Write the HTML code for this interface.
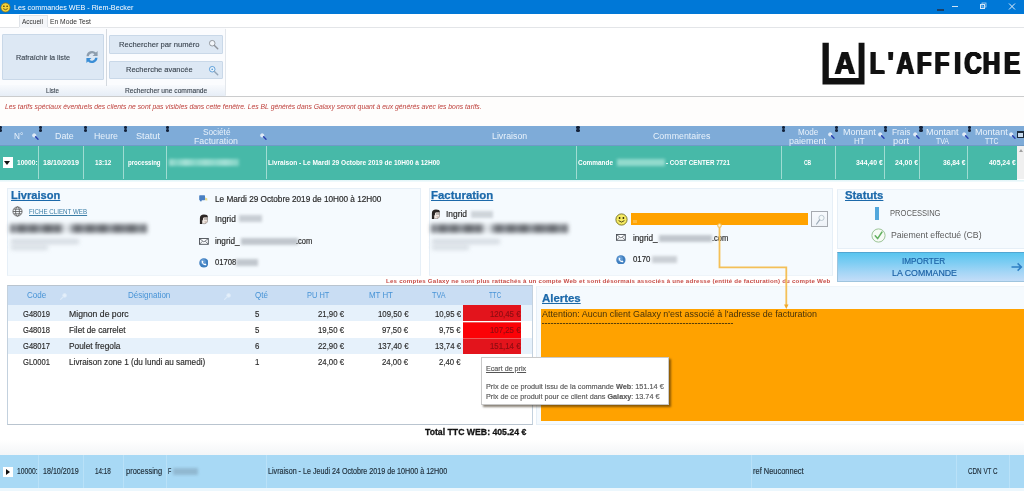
<!DOCTYPE html>
<html lang="fr">
<head>
<meta charset="utf-8">
<title>Les commandes WEB - Riem-Becker</title>
<style>
html,body{margin:0;padding:0;}
body{width:1024px;height:491px;position:relative;overflow:hidden;background:#fff;font-family:"Liberation Sans","DejaVu Sans",sans-serif;color:#222;}
.a{position:absolute;white-space:nowrap;line-height:1;}
.t{position:absolute;white-space:nowrap;line-height:1;transform-origin:0 50%;margin-top:.6px;}
.c{text-align:center;}
.r{text-align:right;}
.blur{filter:blur(1.6px);}
/* title bar */
#titlebar{left:0;top:0;width:1024px;height:14px;background:#0078d7;}
/* ribbon */
.rbtn{position:absolute;background:#dde8f4;border:1px solid #c9d8e8;box-sizing:border-box;border-radius:1px;}
.rtxt{color:#3a444f;font-size:8.5px;-webkit-text-stroke:.12px currentColor;}
/* grid header */
#ghead{left:0;top:126.2px;width:1024px;height:19.8px;background:#7eabd8;}
.gh{color:#e9f2fb;font-size:9px;line-height:8.5px;text-align:center;}
#grow{left:0;top:146px;width:1017px;height:33.6px;background:#47b9a8;}
.gsep{position:absolute;top:146px;width:1px;height:33px;background:#9fdcd2;}
.gv{color:#fff;font-weight:bold;font-size:7.5px;}
/* panels */
.panel{position:absolute;background:#f5fafe;border:1px solid #e6eff7;box-sizing:border-box;}
.h{color:#1c69aa;-webkit-text-stroke:.25px currentColor;font-weight:bold;font-size:13px;text-decoration:underline;text-decoration-thickness:1px;}
.d{font-size:8.5px;color:#2a2a2a;-webkit-text-stroke:.18px currentColor;}
/* product table */
.ph{color:#4793d6;font-size:8.5px;}
.pc{font-size:8.5px;color:#2b2b2b;-webkit-text-stroke:.15px currentColor;}
.brow{font-size:8px;color:#1d2b36;-webkit-text-stroke:.15px currentColor;}
.bsep{position:absolute;top:455px;width:1px;height:33px;background:#b9e1f8;}
</style>
</head>
<body>

<!-- ===== Title bar ===== -->
<div class="a" id="titlebar"></div>
<svg class="a" style="left:0;top:2px" width="11" height="11" viewBox="0 0 11 11"><circle cx="5.5" cy="5.5" r="4.6" fill="#f3d23a" stroke="#8a6d12" stroke-width=".7"/><circle cx="3.9" cy="4.3" r=".8" fill="#3a2c05"/><circle cx="7.1" cy="4.3" r=".8" fill="#3a2c05"/><path d="M3.2 6.6 Q5.5 8.8 7.8 6.6" fill="none" stroke="#3a2c05" stroke-width=".7"/></svg>
<div class="t" style="left:14px;top:3.20px;font-size:7.6px;color:#fff;transform:scaleX(0.9486);">Les commandes WEB - Riem-Becker</div>
<!-- window controls -->
<svg class="a" style="left:930px;top:0" width="94" height="14" viewBox="0 0 94 14">
<rect x="7" y="9" width="7" height="2" fill="#1b3f66"/>
<rect x="22" y="6" width="6" height="1" fill="#cfe4f7"/>
<rect x="50.5" y="4.5" width="4" height="4" fill="none" stroke="#d8e9f8" stroke-width="1"/>
<rect x="52" y="3" width="4" height="4" fill="none" stroke="#b5d5f1" stroke-width=".8"/>
<path d="M79 3.5 L85 9.5 M85 3.5 L79 9.5" stroke="#e3effa" stroke-width="1"/>
</svg>

<!-- ===== Tabs ===== -->
<div class="a" style="left:19px;top:15px;width:29px;height:13px;background:#f4f6f9;border:1px solid #dfe3e8;border-bottom:none;box-sizing:border-box;"></div>
<div class="t" style="left:22.3px;top:17.25px;font-size:7.5px;color:#333;transform:scaleX(0.8682);">Accueil</div>
<div class="t" style="left:50.3px;top:17.25px;font-size:7.5px;color:#333;transform:scaleX(0.8965);">En Mode Test</div>
<div class="a" style="left:0;top:27px;width:1024px;height:1px;background:#e3e5e8;"></div>
<div class="a" style="left:19px;top:27px;width:29px;height:1px;background:#f4f6f9;"></div>

<!-- ===== Ribbon ===== -->
<div class="a" style="left:0;top:28px;width:226px;height:68px;background:#fbfcfe;"></div>
<div class="a" style="left:0;top:85px;width:226px;height:11.4px;background:linear-gradient(#f8fafd,#e6edf6);"></div>
<div class="a" style="left:106px;top:29px;width:1px;height:57px;background:#d4d9df;"></div>
<div class="a" style="left:225px;top:29px;width:1px;height:66px;background:#e3e7ec;"></div>
<div class="rbtn" style="left:2px;top:34px;width:102px;height:46px;"></div>
<div class="t rtxt" style="left:16.4px;top:53.30px;font-size:7.9px;transform:scaleX(0.9189);">Rafraîchir la liste</div>
<svg class="a" style="left:84px;top:49px" width="16" height="16" viewBox="0 0 16 16"><path d="M2.5 7.2 A5.6 5.6 0 0 1 12 3.6 L13.6 2 V7 H8.6 L10.4 5.2 A3.4 3.4 0 0 0 4.8 7.2 Z" fill="#8e9eae"/><path d="M13.5 8.8 A5.6 5.6 0 0 1 4 12.4 L2.4 14 V9 H7.4 L5.6 10.8 A3.4 3.4 0 0 0 11.2 8.8 Z" fill="#3a8ed6"/></svg>
<div class="rbtn" style="left:109px;top:35.4px;width:114px;height:18.4px;"></div>
<div class="t rtxt" style="left:119px;top:40.25px;font-size:8.0px;transform:scaleX(0.9540);">Rechercher par numéro</div>
<svg class="a" style="left:208px;top:39.4px" width="11" height="11" viewBox="0 0 13 13"><circle cx="5" cy="5" r="3.3" fill="#f2f6fa" stroke="#8f949b" stroke-width="1.1"/><path d="M7.6 7.6 L11.5 11.5" stroke="#8f949b" stroke-width="1.7" stroke-linecap="round"/></svg>
<div class="rbtn" style="left:109px;top:61px;width:114px;height:18px;"></div>
<div class="t rtxt" style="left:126px;top:65.25px;font-size:8.0px;transform:scaleX(0.9360);">Recherche avancée</div>
<svg class="a" style="left:208px;top:64.6px" width="11" height="11" viewBox="0 0 13 13"><circle cx="5" cy="5" r="3.3" fill="#e8f2fb" stroke="#5a9dd8" stroke-width="1.1"/><circle cx="5" cy="5" r="1" fill="#5a9dd8"/><path d="M7.6 7.6 L11.5 11.5" stroke="#93a6b8" stroke-width="1.7" stroke-linecap="round"/></svg>
<div class="t rtxt" style="left:45.7px;top:86.40px;font-size:7.2px;transform:scaleX(0.8560);">Liste</div>
<div class="t rtxt" style="left:124.7px;top:86.40px;font-size:7.2px;transform:scaleX(0.9278);">Rechercher une commande</div>
<div class="a" style="left:0;top:96.2px;width:1024px;height:1.8px;background:#cbcccd;"></div>
<div class="a" style="left:0;top:97px;width:1024px;height:30px;background:#fefdfc;"></div>

<!-- ===== Logo ===== -->
<svg class="a" style="left:816px;top:36px" width="208" height="56" viewBox="0 0 208 56">
<defs><filter id="fat" x="-5%" y="-5%" width="110%" height="110%" color-interpolation-filters="sRGB"><feConvolveMatrix order="3 1" kernelMatrix="0.85 1 0.85" divisor="1" edgeMode="none" result="c"/><feFlood flood-color="#111"/><feComposite in2="c" operator="in"/></filter></defs>
<path d="M6.5 6.7 H12.8 V42.1 H42.6 V6.7 H48.5 V48.4 H6.5 Z" fill="#111"/>
<g transform="scale(0.89,1)" filter="url(#fat)" font-family="Liberation Sans, sans-serif" font-weight="bold" font-size="31.6" fill="#111">
<text x="21.0" y="38.3">A</text>
</g>
<g transform="scale(0.78,1)" filter="url(#fat)" font-family="Liberation Sans, sans-serif" font-weight="bold" font-size="31.2" fill="#111">
<text x="68.8 91.9 103.2 129.3 151.9 177.1 190.2 213.9 241.0" y="38.1">L'AFFICHE</text>
</g>
</svg>

<!-- red info line -->
<div class="t" style="left:4.7px;top:102.5px;font-size:7.5px;font-style:italic;color:#bd3d38;transform:scaleX(0.9068);">Les tarifs spéciaux éventuels des clients ne sont pas visibles dans cette fenêtre. Les BL générés dans Galaxy seront quant à eux générés avec les bons tarifs.</div>

<!-- ===== Grid header ===== -->
<div class="a" id="ghead"></div>
<div class="a" style="left:0;top:145px;width:1024px;height:1px;background:#6f9bc6;"></div>
<div class="t gh" style="left:13.6px;top:131.75px;font-size:8.50px;line-height:8.50px;transform:scaleX(0.9637);">N°</div>
<div class="t gh" style="left:54.6px;top:131.75px;font-size:8.50px;line-height:8.50px;transform:scaleX(1.0463);">Date</div>
<div class="t gh" style="left:94.4px;top:131.75px;font-size:8.50px;line-height:8.50px;transform:scaleX(1.0364);">Heure</div>
<div class="t gh" style="left:136.0px;top:131.75px;font-size:8.50px;line-height:8.50px;transform:scaleX(1.0802);">Statut</div>
<div class="t gh" style="left:202.5px;top:127.25px;font-size:8.50px;line-height:8.50px;transform:scaleX(0.9697);">Société</div>
<div class="t gh" style="left:194.0px;top:136.25px;font-size:8.50px;line-height:8.50px;transform:scaleX(1.0345);">Facturation</div>
<div class="t gh" style="left:491.7px;top:131.75px;font-size:8.50px;line-height:8.50px;transform:scaleX(1.0343);">Livraison</div>
<div class="t gh" style="left:653.4px;top:131.75px;font-size:8.50px;line-height:8.50px;transform:scaleX(1.0383);">Commentaires</div>
<div class="t gh" style="left:797.8px;top:127.25px;font-size:8.50px;line-height:8.50px;transform:scaleX(0.9499);">Mode</div>
<div class="t gh" style="left:789.2px;top:136.25px;font-size:8.50px;line-height:8.50px;transform:scaleX(1.0609);">paiement</div>
<div class="t gh" style="left:842.6px;top:127.25px;font-size:8.50px;line-height:8.50px;transform:scaleX(1.0645);">Montant</div>
<div class="t gh" style="left:854.0px;top:136.25px;font-size:8.50px;line-height:8.50px;transform:scaleX(0.9344);">HT</div>
<div class="t gh" style="left:891.6px;top:127.25px;font-size:8.50px;line-height:8.50px;transform:scaleX(0.9740);">Frais</div>
<div class="t gh" style="left:893.0px;top:136.25px;font-size:8.50px;line-height:8.50px;transform:scaleX(1.0917);">port</div>
<div class="t gh" style="left:926.4px;top:127.25px;font-size:8.50px;line-height:8.50px;transform:scaleX(1.0612);">Montant</div>
<div class="t gh" style="left:936.0px;top:136.25px;font-size:8.50px;line-height:8.50px;transform:scaleX(0.8173);">TVA</div>
<div class="t gh" style="left:975.3px;top:127.25px;font-size:8.50px;line-height:8.50px;transform:scaleX(1.0645);">Montant</div>
<div class="t gh" style="left:985.0px;top:136.25px;font-size:8.50px;line-height:8.50px;transform:scaleX(0.8106);">TTC</div>
<div class="a" style="left:-1px;top:126.1px;width:3.2px;height:2.7px;background:#14223a;border-radius:50%;"></div>
<div class="a" style="left:-1px;top:128.9px;width:3.2px;height:2.7px;background:#14223a;border-radius:50%;"></div>
<div class="a" style="left:38.7px;top:126.1px;width:3.2px;height:2.7px;background:#14223a;border-radius:50%;"></div>
<div class="a" style="left:38.7px;top:128.9px;width:3.2px;height:2.7px;background:#14223a;border-radius:50%;"></div>
<div class="a" style="left:83.9px;top:126.1px;width:3.2px;height:2.7px;background:#14223a;border-radius:50%;"></div>
<div class="a" style="left:83.9px;top:128.9px;width:3.2px;height:2.7px;background:#14223a;border-radius:50%;"></div>
<div class="a" style="left:123.8px;top:126.1px;width:3.2px;height:2.7px;background:#14223a;border-radius:50%;"></div>
<div class="a" style="left:123.8px;top:128.9px;width:3.2px;height:2.7px;background:#14223a;border-radius:50%;"></div>
<div class="a" style="left:166.2px;top:126.1px;width:3.2px;height:2.7px;background:#14223a;border-radius:50%;"></div>
<div class="a" style="left:166.2px;top:128.9px;width:3.2px;height:2.7px;background:#14223a;border-radius:50%;"></div>
<div class="a" style="left:576.4px;top:126.1px;width:3.2px;height:2.7px;background:#14223a;border-radius:50%;"></div>
<div class="a" style="left:576.4px;top:128.9px;width:3.2px;height:2.7px;background:#14223a;border-radius:50%;"></div>
<div class="a" style="left:781.6px;top:126.1px;width:3.2px;height:2.7px;background:#14223a;border-radius:50%;"></div>
<div class="a" style="left:781.6px;top:128.9px;width:3.2px;height:2.7px;background:#14223a;border-radius:50%;"></div>
<div class="a" style="left:835.1px;top:126.1px;width:3.2px;height:2.7px;background:#14223a;border-radius:50%;"></div>
<div class="a" style="left:835.1px;top:128.9px;width:3.2px;height:2.7px;background:#14223a;border-radius:50%;"></div>
<div class="a" style="left:884.1px;top:126.1px;width:3.2px;height:2.7px;background:#14223a;border-radius:50%;"></div>
<div class="a" style="left:884.1px;top:128.9px;width:3.2px;height:2.7px;background:#14223a;border-radius:50%;"></div>
<div class="a" style="left:919.4px;top:126.1px;width:3.2px;height:2.7px;background:#14223a;border-radius:50%;"></div>
<div class="a" style="left:919.4px;top:128.9px;width:3.2px;height:2.7px;background:#14223a;border-radius:50%;"></div>
<div class="a" style="left:967.8px;top:126.1px;width:3.2px;height:2.7px;background:#14223a;border-radius:50%;"></div>
<div class="a" style="left:967.8px;top:128.9px;width:3.2px;height:2.7px;background:#14223a;border-radius:50%;"></div>
<svg class="a" style="left:31.0px;top:131.8px" width="9" height="9" viewBox="0 0 9 9"><circle cx="3.2" cy="3.4" r="1.7" fill="#dfeaf6" stroke="#e9f1fa" stroke-width=".7"/><path d="M4.6 4.8 L7 7.2" stroke="#2a3fb0" stroke-width="1.4" stroke-linecap="round"/></svg>
<svg class="a" style="left:259.4px;top:131.8px" width="9" height="9" viewBox="0 0 9 9"><circle cx="3.2" cy="3.4" r="1.7" fill="#dfeaf6" stroke="#e9f1fa" stroke-width=".7"/><path d="M4.6 4.8 L7 7.2" stroke="#2a3fb0" stroke-width="1.4" stroke-linecap="round"/></svg>
<svg class="a" style="left:827.3px;top:131.2px" width="9" height="9" viewBox="0 0 9 9"><circle cx="3.2" cy="3.4" r="1.7" fill="#dfeaf6" stroke="#e9f1fa" stroke-width=".7"/><path d="M4.6 4.8 L7 7.2" stroke="#2a3fb0" stroke-width="1.4" stroke-linecap="round"/></svg>
<svg class="a" style="left:877.2px;top:131.2px" width="9" height="9" viewBox="0 0 9 9"><circle cx="3.2" cy="3.4" r="1.7" fill="#dfeaf6" stroke="#e9f1fa" stroke-width=".7"/><path d="M4.6 4.8 L7 7.2" stroke="#2a3fb0" stroke-width="1.4" stroke-linecap="round"/></svg>
<svg class="a" style="left:912.0px;top:131.2px" width="9" height="9" viewBox="0 0 9 9"><circle cx="3.2" cy="3.4" r="1.7" fill="#dfeaf6" stroke="#e9f1fa" stroke-width=".7"/><path d="M4.6 4.8 L7 7.2" stroke="#2a3fb0" stroke-width="1.4" stroke-linecap="round"/></svg>
<svg class="a" style="left:961.0px;top:131.2px" width="9" height="9" viewBox="0 0 9 9"><circle cx="3.2" cy="3.4" r="1.7" fill="#dfeaf6" stroke="#e9f1fa" stroke-width=".7"/><path d="M4.6 4.8 L7 7.2" stroke="#2a3fb0" stroke-width="1.4" stroke-linecap="round"/></svg>
<svg class="a" style="left:1008.0px;top:131.2px" width="9" height="9" viewBox="0 0 9 9"><circle cx="3.2" cy="3.4" r="1.7" fill="#dfeaf6" stroke="#e9f1fa" stroke-width=".7"/><path d="M4.6 4.8 L7 7.2" stroke="#2a3fb0" stroke-width="1.4" stroke-linecap="round"/></svg>
<div class="a" style="left:1017px;top:131px;width:7px;height:7px;border:1px solid #1c2a3a;border-top-width:2px;box-sizing:border-box;background:#c9dcef;"></div>

<!-- ===== Selected grid row ===== -->
<div class="a" id="grow"></div>
<div class="gsep" style="left:38px;"></div>
<div class="gsep" style="left:83px;"></div>
<div class="gsep" style="left:123px;"></div>
<div class="gsep" style="left:166px;"></div>
<div class="gsep" style="left:266px;"></div>
<div class="gsep" style="left:576px;"></div>
<div class="gsep" style="left:781px;"></div>
<div class="gsep" style="left:835px;"></div>
<div class="gsep" style="left:884px;"></div>
<div class="gsep" style="left:919px;"></div>
<div class="gsep" style="left:967px;"></div>
<div class="a" style="left:1017px;top:146px;width:7px;height:33px;background:#f0f0f0;"></div>
<div class="a" style="left:1018.5px;top:149px;width:0;height:0;border-left:2px solid transparent;border-right:2px solid transparent;border-bottom:3px solid #a0a0a0;"></div>
<div class="a" style="left:2.5px;top:157px;width:10.5px;height:10.5px;background:#fff;"></div>
<div class="a" style="left:4.1px;top:160.8px;width:0;height:0;border-left:3.6px solid transparent;border-right:3.6px solid transparent;border-top:4.2px solid #111;"></div>
<div class="t gv" style="left:16.9px;top:158.25px;font-size:7.20px;transform:scaleX(0.9200);">10000:</div>
<div class="t gv" style="left:42.9px;top:158.25px;font-size:7.20px;transform:scaleX(1.0032);">18/10/2019</div>
<div class="t gv" style="left:95.0px;top:158.25px;font-size:7.20px;transform:scaleX(0.8863);">13:12</div>
<div class="t gv" style="left:128.4px;top:158.25px;font-size:7.20px;transform:scaleX(0.8499);">processing</div>
<div class="a" style="left:169px;top:158.6px;width:70px;height:7.6px;filter:blur(1.8px);opacity:.8;background:linear-gradient(90deg,#b6e8de 0,#8fd9cc 12%,#bdebe2 24%,#93dbce 38%,#b4e7dd 52%,#9cdfd3 66%,#b9e9e0 80%,#8ed8cb 100%);"></div>
<div class="t gv" style="left:267.7px;top:158.25px;font-size:7.20px;transform:scaleX(0.9141);">Livraison - Le Mardi 29 Octobre 2019 de 10H00 à 12H00</div>
<div class="t gv" style="left:578.0px;top:158.25px;font-size:7.20px;transform:scaleX(0.8942);">Commande</div>
<div class="a blur" style="left:617px;top:159px;width:48px;height:7px;background:#9fe0d4;opacity:.85;"></div>
<div class="t gv" style="left:666.0px;top:158.25px;font-size:7.20px;transform:scaleX(0.8661);">- COST CENTER 7721</div>
<div class="t gv" style="left:804.4px;top:158.25px;font-size:7.20px;transform:scaleX(0.6929);">CB</div>
<div class="t gv" style="left:856.0px;top:158.25px;font-size:7.20px;transform:scaleX(0.9541);">344,40 €</div>
<div class="t gv" style="left:895.2px;top:158.25px;font-size:7.20px;transform:scaleX(0.9631);">24,00 €</div>
<div class="t gv" style="left:943.3px;top:158.25px;font-size:7.20px;transform:scaleX(0.9381);">36,84 €</div>
<div class="t gv" style="left:988.7px;top:158.25px;font-size:7.20px;transform:scaleX(0.9541);">405,24 €</div>

<!-- ===== Detail area ===== -->
<div class="a" style="left:0;top:179.6px;width:1024px;height:2.4px;background:linear-gradient(#dff4f7,#f4fbfd);"></div>
<div class="panel" style="left:7px;top:188px;width:414px;height:88px;border-bottom-color:#eef4f9;"></div>
<div class="panel" style="left:428.5px;top:188px;width:404.5px;height:88px;border-bottom-color:#eef4f9;"></div>
<div class="panel" style="left:837px;top:188.6px;width:190px;height:60.2px;border-top-color:#ecf3f9;"></div>
<div class="t h" style="left:10.5px;top:189.50px;font-size:11.00px;transform:scaleX(1.0081);">Livraison</div>
<div class="t h" style="left:431.2px;top:189.50px;font-size:11.00px;transform:scaleX(1.0383);">Facturation</div>
<div class="t h" style="left:845.3px;top:189.50px;font-size:11.00px;transform:scaleX(1.0300);">Statuts</div>
<svg class="a" style="left:11.5px;top:206.2px" width="11" height="11" viewBox="0 0 11 11"><g fill="none" stroke="#555" stroke-width=".8"><circle cx="5.5" cy="5.5" r="4.6"/><ellipse cx="5.5" cy="5.5" rx="2" ry="4.6"/><path d="M1 5.5H10M1.8 3.2H9.2M1.8 7.8H9.2"/></g></svg>
<div class="t d" style="left:28.6px;top:207.90px;font-size:7.5px;color:#3b7da6;text-decoration:underline;text-decoration-thickness:.7px;-webkit-text-stroke:0;transform:scaleX(0.8265);">FICHE CLIENT WEB</div>
<div class="a" style="left:9.5px;top:223.6px;width:137px;height:9.4px;filter:blur(2.1px);opacity:.8;background:linear-gradient(90deg,#4b4e55 0,#80858c 4%,#3f4248 8%,#6c7178 13%,#43464c 17%,#7d8289 22%,#3d4046 27%,#62666d 32%,#474a50 36%,#c9ced4 39%,#e6eaee 42%,#8b9097 45%,#3f4248 49%,#767b82 54%,#41444a 58%,#6a6e75 63%,#3d4046 68%,#7f848b 73%,#45484e 78%,#666a71 84%,#3f4248 89%,#74797f 94%,#4b4e55 100%);"></div>
<div class="a blur" style="left:11px;top:239px;width:68px;height:5px;filter:blur(2px);background:#c5ccd4;opacity:.7;"></div>
<div class="a blur" style="left:11px;top:245px;width:37px;height:5px;filter:blur(2px);background:#cbd2d9;opacity:.7;"></div>
<div class="a" style="left:430.5px;top:223.6px;width:137px;height:9.4px;filter:blur(2.1px);opacity:.8;background:linear-gradient(90deg,#4b4e55 0,#80858c 4%,#3f4248 8%,#6c7178 13%,#43464c 17%,#7d8289 22%,#3d4046 27%,#62666d 32%,#474a50 36%,#c9ced4 39%,#e6eaee 42%,#8b9097 45%,#3f4248 49%,#767b82 54%,#41444a 58%,#6a6e75 63%,#3d4046 68%,#7f848b 73%,#45484e 78%,#666a71 84%,#3f4248 89%,#74797f 94%,#4b4e55 100%);"></div>
<div class="a blur" style="left:432px;top:239px;width:68px;height:5px;filter:blur(2px);background:#c5ccd4;opacity:.7;"></div>
<div class="a blur" style="left:432px;top:245px;width:37px;height:5px;filter:blur(2px);background:#cbd2d9;opacity:.7;"></div>
<svg class="a" style="left:198.7px;top:195.2px" width="9" height="7" viewBox="0 0 9 7"><rect x=".2" y=".3" width="5.8" height="4.9" rx=".6" fill="#4a80c2"/><rect x=".9" y="5" width="1.8" height="1.3" fill="#4a80c2"/><path d="M6 2.4 L8.2 3.2 L8.4 5.6 L6 5.2 Z" fill="#e6d88c"/></svg>
<svg class="a" style="left:198.7px;top:214.2px" width="9.4" height="10.4" viewBox="0 0 9.4 10.4"><path d="M3.4 3 H8.5 V7.8 Q7.6 9.9 5 9.8 L3 9.2 Z" fill="#f1e9e3" stroke="#5d514b" stroke-width=".45"/><path d="M.9 9.9 L.9 4.2 Q.9 .5 5 .5 Q9.2 .5 8.8 3.3 L5.2 3.2 Q3.9 3.5 3.9 5 L3.9 6.2 L2.9 6.2 L3.1 9.9 Z" fill="#2b2624"/><path d="M5.4 5 H6.6 M7.3 5 H8.3" stroke="#2b2624" stroke-width=".8"/><path d="M5.6 7.8 Q6.6 8.3 7.6 7.8" stroke="#7a4f42" stroke-width=".5" fill="none"/></svg>
<svg class="a" style="left:198.8px;top:237.6px" width="10" height="7" viewBox="0 0 10 7"><rect x=".5" y=".5" width="8.8" height="5.8" fill="#fafcfe" stroke="#4a4f56" stroke-width=".9"/><path d="M.7 .8 L4.9 3.9 L9.1 .8 M.7 6.1 L3.5 3.2 M9.1 6.1 L6.3 3.2" fill="none" stroke="#4a4f56" stroke-width=".7"/></svg>
<svg class="a" style="left:198.7px;top:258.1px" width="9.8" height="9.8" viewBox="0 0 11 11"><circle cx="5.5" cy="5.5" r="5.2" fill="#3f7fc0"/><circle cx="4.6" cy="4.2" r="3" fill="#7fb0e2" opacity=".55"/><path d="M3 3.2 Q2.6 5.4 4.4 7 Q6.2 8.6 8 8 L8.2 6.8 L6.8 6.2 L6.2 6.8 Q5 6.4 4.4 5 L5 4.4 L4.4 3 Z" fill="#fff"/></svg>
<div class="t d" style="left:215.2px;top:195.00px;font-size:8.2px;transform:scaleX(1.0010);">Le Mardi 29 Octobre 2019 de 10H00 à 12H00</div>
<div class="t d" style="left:215.2px;top:215.10px;font-size:8.2px;transform:scaleX(1.0154);">Ingrid</div>
<div class="a blur" style="left:239px;top:215px;width:23px;height:7px;background:#b9bfc6;opacity:.75;"></div>
<div class="t d" style="left:215.2px;top:237.70px;font-size:8.2px;transform:scaleX(1.0003);">ingrid_</div>
<div class="a blur" style="left:241px;top:238px;width:57px;height:7px;background:#b4bac1;opacity:.8;"></div>
<div class="t d" style="left:296.0px;top:237.70px;font-size:8.2px;transform:scaleX(0.9183);">.com</div>
<div class="t d" style="left:215.2px;top:258.90px;font-size:8.2px;transform:scaleX(0.9350);">01708</div>
<div class="a blur" style="left:236px;top:259px;width:22px;height:7px;background:#b5bbc2;opacity:.8;"></div>
<svg class="a" style="left:430.8px;top:208.7px" width="9.4" height="10.4" viewBox="0 0 9.4 10.4"><path d="M3.4 3 H8.5 V7.8 Q7.6 9.9 5 9.8 L3 9.2 Z" fill="#f1e9e3" stroke="#5d514b" stroke-width=".45"/><path d="M.9 9.9 L.9 4.2 Q.9 .5 5 .5 Q9.2 .5 8.8 3.3 L5.2 3.2 Q3.9 3.5 3.9 5 L3.9 6.2 L2.9 6.2 L3.1 9.9 Z" fill="#2b2624"/><path d="M5.4 5 H6.6 M7.3 5 H8.3" stroke="#2b2624" stroke-width=".8"/><path d="M5.6 7.8 Q6.6 8.3 7.6 7.8" stroke="#7a4f42" stroke-width=".5" fill="none"/></svg>
<div class="t d" style="left:445.8px;top:210.40px;font-size:8.2px;transform:scaleX(1.0252);">Ingrid</div>
<div class="a blur" style="left:471px;top:210.5px;width:22px;height:7px;background:#c2c8ce;opacity:.75;"></div>
<svg class="a" style="left:614.8px;top:213.2px" width="13" height="13" viewBox="0 0 13 13"><circle cx="6.5" cy="6.5" r="5.6" fill="#f5ea62" stroke="#76701c" stroke-width=".9"/><circle cx="4.6" cy="5" r=".9" fill="#2a2205"/><circle cx="8.4" cy="5" r=".9" fill="#2a2205"/><path d="M3.6 7.6 Q6.5 10.6 9.4 7.6" fill="none" stroke="#2a2205" stroke-width=".8"/></svg>
<div class="a" style="left:631px;top:212.9px;width:177px;height:12.5px;background:#ffa200;"></div>
<div class="a" style="left:632.5px;top:219.5px;width:4px;height:3px;background:#ffb93a;"></div>
<div class="a" style="left:811px;top:211.3px;width:17px;height:15.4px;box-sizing:border-box;border:1px solid #a6aab0;background:linear-gradient(#f7fafd,#eef3f8);"></div>
<svg class="a" style="left:813px;top:213px" width="13" height="12" viewBox="0 0 13 12"><circle cx="8.5" cy="4.9" r="2.6" fill="#f4f9fb" stroke="#b5c3cc" stroke-width=".9"/><path d="M6.6 6.9 L3.6 11" stroke="#9aa9b6" stroke-width="1.2" stroke-linecap="round"/></svg>
<svg class="a" style="left:616px;top:234.2px" width="10" height="7" viewBox="0 0 10 7"><rect x=".5" y=".5" width="8.8" height="5.8" fill="#fafcfe" stroke="#4a4f56" stroke-width=".9"/><path d="M.7 .8 L4.9 3.9 L9.1 .8 M.7 6.1 L3.5 3.2 M9.1 6.1 L6.3 3.2" fill="none" stroke="#4a4f56" stroke-width=".7"/></svg>
<svg class="a" style="left:616.1px;top:254.7px" width="9.8" height="9.8" viewBox="0 0 11 11"><circle cx="5.5" cy="5.5" r="5.2" fill="#3f7fc0"/><circle cx="4.6" cy="4.2" r="3" fill="#7fb0e2" opacity=".55"/><path d="M3 3.2 Q2.6 5.4 4.4 7 Q6.2 8.6 8 8 L8.2 6.8 L6.8 6.2 L6.2 6.8 Q5 6.4 4.4 5 L5 4.4 L4.4 3 Z" fill="#fff"/></svg>
<div class="t d" style="left:632.6px;top:234.60px;font-size:8.2px;transform:scaleX(1.0003);">ingrid_</div>
<div class="a blur" style="left:659px;top:235px;width:53px;height:7px;background:#b4bac1;opacity:.8;"></div>
<div class="t d" style="left:711.5px;top:234.60px;font-size:8.2px;transform:scaleX(0.9183);">.com</div>
<div class="t d" style="left:632.6px;top:255.80px;font-size:8.2px;transform:scaleX(0.9551);">0170</div>
<div class="a blur" style="left:652px;top:256px;width:25px;height:7px;background:#c0c5cb;opacity:.8;"></div>
<svg class="a" style="left:712px;top:220px;z-index:5" width="84" height="92" viewBox="0 0 84 92"><path d="M7.5 7 V47.4 H74.3 V85" fill="none" stroke="#f4c058" stroke-width="1.8"/><circle cx="7.5" cy="5.6" r="1.8" fill="#fff3d6" stroke="#f4c058" stroke-width="1.1"/><path d="M72.1 84.6 L74.3 89 L76.5 84.6 Z" fill="#f0a82a"/></svg>
<div class="a" style="left:875px;top:207px;width:4px;height:13px;background:#52a7dc;"></div>
<div class="t d" style="left:889.5px;top:208.90px;font-size:8.5px;color:#5c5c5c;-webkit-text-stroke:0;transform:scaleX(0.8908);">PROCESSING</div>
<svg class="a" style="left:870.5px;top:227.5px" width="15" height="15" viewBox="0 0 15 15"><circle cx="7.5" cy="7.5" r="6.6" fill="#f7fbf6" stroke="#9cc497" stroke-width="1"/><path d="M4.2 7.8 L6.6 10.6 L11 4" fill="none" stroke="#62b060" stroke-width="1.5" stroke-linecap="round" stroke-linejoin="round"/></svg>
<div class="t d" style="left:891.4px;top:230.1px;font-size:8.5px;color:#5c5c5c;-webkit-text-stroke:0;transform:scaleX(1.0272);">Paiement effectué (CB)</div>
<div class="a" style="left:837px;top:252.3px;width:190px;height:29.6px;box-sizing:border-box;border:1px solid #9fc4de;border-top-color:#52a6d2;background:linear-gradient(#59c5ef 0%,#7ecdf3 35%,#a6d6f6 70%,#c3ddf8 100%);"></div>
<div class="t d" style="left:902.2px;top:256.70px;font-size:8.5px;color:#1c62a6;transform:scaleX(0.9638);">IMPORTER</div>
<div class="t d" style="left:892.0px;top:268.90px;font-size:8.5px;color:#1c62a6;transform:scaleX(1.0346);">LA COMMANDE</div>
<svg class="a" style="left:1011px;top:262px" width="13" height="10" viewBox="0 0 13 10"><path d="M.5 5 H10 M6.6 1.4 L10.4 5 L6.6 8.6" fill="none" stroke="#2e7fc4" stroke-width="1.5"/></svg>
<div class="t d" style="left:386.4px;top:277.5px;font-size:6px;letter-spacing:.2px;-webkit-text-stroke:0;color:#c74c46;font-weight:bold;transform:scaleX(1.0273);">Les comptes Galaxy ne sont plus rattachés à un compte Web et sont désormais associés à une adresse (entité de facturation) du compte Web</div>

<!-- ===== Products table ===== -->
<div class="a" style="left:7px;top:285px;width:526px;height:139.5px;box-sizing:border-box;border:1px solid #c3d1de;border-top-color:#b9c4cf;border-bottom-color:#b9c4cf;background:#fff;"></div>
<div class="a" style="left:8px;top:286px;width:524px;height:19px;background:#c9ddf3;"></div>
<div class="a" style="left:8px;top:305px;width:524px;height:15.8px;background:#e6f1fb;"></div>
<div class="a" style="left:8px;top:337.9px;width:524px;height:15.9px;background:#e6f1fb;"></div>
<div class="a" style="left:462.8px;top:305.3px;width:58.4px;height:16.2px;background:#e3141c;"></div>
<div class="a" style="left:462.8px;top:321.5px;width:58.4px;height:16.5px;background:#fb0207;border-top:1px solid #f05a5a;box-sizing:border-box;"></div>
<div class="a" style="left:462.8px;top:338px;width:58.4px;height:16px;background:#e3141c;border-top:1px solid #ee5a5a;box-sizing:border-box;"></div>
<div class="t ph" style="left:27.0px;top:291.65px;font-size:8.2px;transform:scaleX(0.9807);">Code</div>
<div class="t ph" style="left:127.7px;top:291.65px;font-size:8.2px;transform:scaleX(0.9780);">Désignation</div>
<div class="t ph" style="left:254.7px;top:291.65px;font-size:8.2px;transform:scaleX(0.9770);">Qté</div>
<div class="t ph" style="left:306.7px;top:291.65px;font-size:8.2px;transform:scaleX(0.9079);">PU HT</div>
<div class="t ph" style="left:368.8px;top:291.65px;font-size:8.2px;transform:scaleX(0.9608);">MT HT</div>
<div class="t ph" style="left:431.8px;top:291.65px;font-size:8.2px;transform:scaleX(0.8807);">TVA</div>
<div class="t ph" style="left:488.6px;top:291.65px;font-size:8.2px;transform:scaleX(0.7662);">TTC</div>
<svg class="a" style="left:58.8px;top:291.5px" width="9" height="9" viewBox="0 0 9 9"><circle cx="5.6" cy="3.4" r="1.9" fill="#e4effa" stroke="#dceaf8" stroke-width=".8"/><path d="M3.9 5.1 L1.6 7.4" stroke="#dceaf8" stroke-width="1.3" stroke-linecap="round"/></svg>
<svg class="a" style="left:222.8px;top:291.5px" width="9" height="9" viewBox="0 0 9 9"><circle cx="5.6" cy="3.4" r="1.9" fill="#e4effa" stroke="#dceaf8" stroke-width=".8"/><path d="M3.9 5.1 L1.6 7.4" stroke="#dceaf8" stroke-width="1.3" stroke-linecap="round"/></svg>
<div class="t pc" style="left:23.4px;top:310.15px;font-size:8.20px;transform:scaleX(0.9265);">G48019</div>
<div class="t pc" style="left:68.7px;top:310.15px;font-size:8.20px;transform:scaleX(1.0578);">Mignon de porc</div>
<div class="t pc" style="left:255.2px;top:310.15px;font-size:8.20px;transform:scaleX(0.9644);">5</div>
<div class="t pc" style="left:318.2px;top:310.15px;font-size:8.20px;transform:scaleX(0.9514);">21,90 €</div>
<div class="t pc" style="left:377.8px;top:310.15px;font-size:8.20px;transform:scaleX(0.9569);">109,50 €</div>
<div class="t pc" style="left:435.0px;top:310.15px;font-size:8.20px;transform:scaleX(0.9514);">10,95 €</div>
<div class="t pc" style="left:489.6px;top:310.15px;font-size:8.20px;color:#8d0d12;transform:scaleX(0.9569);">120,45 €</div>
<div class="t pc" style="left:23.4px;top:326.35px;font-size:8.20px;transform:scaleX(0.9265);">G48018</div>
<div class="t pc" style="left:68.7px;top:326.35px;font-size:8.20px;transform:scaleX(1.0011);">Filet de carrelet</div>
<div class="t pc" style="left:255.2px;top:326.35px;font-size:8.20px;transform:scaleX(0.9644);">5</div>
<div class="t pc" style="left:318.2px;top:326.35px;font-size:8.20px;transform:scaleX(0.9514);">19,50 €</div>
<div class="t pc" style="left:382.2px;top:326.35px;font-size:8.20px;transform:scaleX(0.9514);">97,50 €</div>
<div class="t pc" style="left:439.4px;top:326.35px;font-size:8.20px;transform:scaleX(0.9444);">9,75 €</div>
<div class="t pc" style="left:489.6px;top:326.35px;font-size:8.20px;color:#8d0d12;transform:scaleX(0.9569);">107,25 €</div>
<div class="t pc" style="left:23.4px;top:342.55px;font-size:8.20px;transform:scaleX(0.9265);">G48017</div>
<div class="t pc" style="left:68.7px;top:342.55px;font-size:8.20px;transform:scaleX(1.0192);">Poulet fregola</div>
<div class="t pc" style="left:255.2px;top:342.55px;font-size:8.20px;transform:scaleX(0.9644);">6</div>
<div class="t pc" style="left:318.2px;top:342.55px;font-size:8.20px;transform:scaleX(0.9514);">22,90 €</div>
<div class="t pc" style="left:377.8px;top:342.55px;font-size:8.20px;transform:scaleX(0.9569);">137,40 €</div>
<div class="t pc" style="left:435.0px;top:342.55px;font-size:8.20px;transform:scaleX(0.9514);">13,74 €</div>
<div class="t pc" style="left:489.6px;top:342.55px;font-size:8.20px;color:#8d0d12;transform:scaleX(0.9569);">151,14 €</div>
<div class="t pc" style="left:23.4px;top:358.85px;font-size:8.20px;transform:scaleX(0.9265);">GL0001</div>
<div class="t pc" style="left:68.7px;top:358.85px;font-size:8.20px;transform:scaleX(1.0015);">Livraison zone 1 (du lundi au samedi)</div>
<div class="t pc" style="left:255.2px;top:358.85px;font-size:8.20px;transform:scaleX(0.9644);">1</div>
<div class="t pc" style="left:318.2px;top:358.85px;font-size:8.20px;transform:scaleX(0.9514);">24,00 €</div>
<div class="t pc" style="left:382.2px;top:358.85px;font-size:8.20px;transform:scaleX(0.9514);">24,00 €</div>
<div class="t pc" style="left:439.4px;top:358.85px;font-size:8.20px;transform:scaleX(0.9444);">2,40 €</div>

<!-- ===== Alertes ===== -->
<div class="panel" style="left:536px;top:285.5px;width:490px;height:139px;border-right:none;border-top-color:#eff5fa;"></div>
<div class="t h" style="left:542.3px;top:292.10px;font-size:11.00px;transform:scaleX(1.0376);">Alertes</div>
<div class="a" style="left:540.8px;top:309.3px;width:484px;height:111.7px;background:#ffa200;"></div>
<div class="t d" style="left:542.0px;top:309.70px;font-size:9px;color:#46320a;-webkit-text-stroke:0;transform:scaleX(0.9942);">Attention: Aucun client Galaxy n'est associé à l'adresse de facturation</div>
<div class="a" style="left:542px;top:322.7px;width:191px;height:1px;background:repeating-linear-gradient(90deg,#5a4008 0 2.3px,rgba(90,64,8,.25) 2.3px 3px);"></div>

<!-- ===== Tooltip ===== -->
<div class="a" style="left:481.2px;top:356.8px;width:187.6px;height:48.6px;box-sizing:border-box;background:#fff;border:1px solid #c9c9c9;box-shadow:1.5px 1.5px 2px rgba(40,30,10,.55);"></div>
<div class="t d" style="left:486.2px;top:364.00px;font-size:8.00px;color:#555;text-decoration:underline;transform:scaleX(0.8930);">Ecart de prix</div>
<div class="t d" style="left:486.2px;top:382.20px;font-size:8px;color:#5a5a5a;transform:scaleX(0.9130);">Prix de ce produit issu de la commande <b>Web</b>: 151.14 €</div>
<div class="t d" style="left:486.2px;top:392.70px;font-size:8px;color:#5a5a5a;transform:scaleX(0.9072);">Prix de ce produit pour ce client dans <b>Galaxy</b>: 13.74 €</div>

<!-- ===== Total ===== -->
<div class="t d" style="left:425.0px;top:426.50px;font-size:9.5px;color:#111;font-weight:bold;-webkit-text-stroke:.3px #111;z-index:2;transform:scaleX(0.9152);">Total TTC WEB: 405.24 €</div>

<!-- ===== Bottom row ===== -->
<div class="a" style="left:0;top:440px;width:1024px;height:15px;background:linear-gradient(#fff,#f3f5f7);"></div>
<div class="a" style="left:0;top:455px;width:1024px;height:33px;background:#a8d9f5;"></div>
<div class="a" style="left:0;top:488px;width:1024px;height:3px;background:#ecf7fd;"></div>
<div class="bsep" style="left:38px;"></div>
<div class="bsep" style="left:83px;"></div>
<div class="bsep" style="left:123px;"></div>
<div class="bsep" style="left:166px;"></div>
<div class="bsep" style="left:266px;"></div>
<div class="bsep" style="left:751px;"></div>
<div class="bsep" style="left:956px;"></div>
<div class="bsep" style="left:1009px;"></div>
<div class="a" style="left:2.5px;top:466.5px;width:10.5px;height:10.5px;background:#fff;"></div>
<div class="a" style="left:6.3px;top:468.6px;width:0;height:0;border-top:3.2px solid transparent;border-bottom:3.2px solid transparent;border-left:4px solid #111;"></div>
<div class="t brow" style="left:16.9px;top:467.70px;font-size:8.2px;transform:scaleX(0.8225);">10000:</div>
<div class="t brow" style="left:42.9px;top:467.70px;font-size:8.2px;transform:scaleX(0.8686);">18/10/2019</div>
<div class="t brow" style="left:95.0px;top:467.70px;font-size:8.2px;transform:scaleX(0.7756);">14:18</div>
<div class="t brow" style="left:126.0px;top:467.70px;font-size:8.2px;transform:scaleX(0.9139);">processing</div>
<div class="t brow" style="left:168.3px;top:467.70px;font-size:8.2px;transform:scaleX(0.6579);">F</div>
<div class="a blur" style="left:173px;top:468px;width:25px;height:7px;background:#7f9fb5;opacity:.55;"></div>
<div class="t brow" style="left:268px;top:467.70px;font-size:8.2px;transform:scaleX(0.8729);">Livraison - Le Jeudi 24 Octobre 2019 de 10H00 à 12H00</div>
<div class="t brow" style="left:753.2px;top:467.70px;font-size:8.2px;transform:scaleX(0.9112);">ref Neuconnect</div>
<div class="t brow" style="left:968.4px;top:467.70px;font-size:8.2px;transform:scaleX(0.7685);">CDN VT C</div>

</body>
</html>
